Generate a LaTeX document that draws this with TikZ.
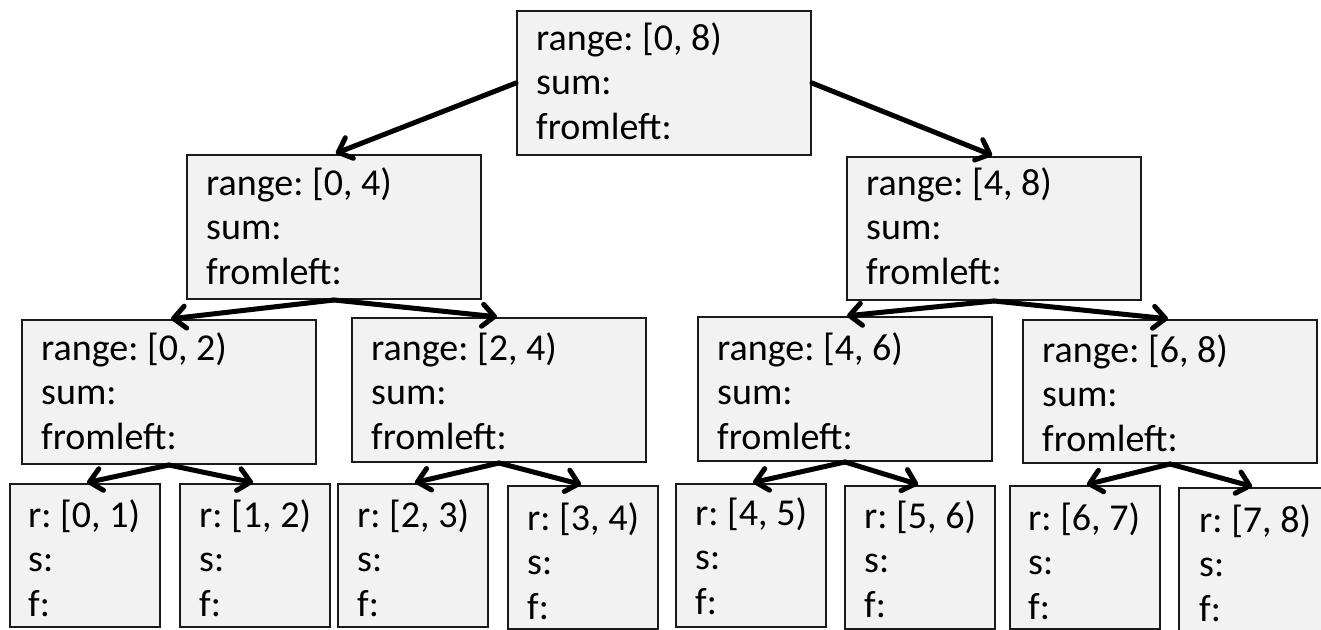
\documentclass[tikz,border=0pt]{standalone}
\usepackage{fontspec}
\setmainfont{Carlito}
\usetikzlibrary{arrows.meta}
\definecolor{boxfill}{HTML}{F2F2F2}
\definecolor{boxline}{HTML}{1A1A1A}
\frenchspacing
\begin{document}
\begin{tikzpicture}[x=1pt,y=-1pt,
  box/.style={draw=boxline, fill=boxfill, line width=2pt, inner sep=0pt, anchor=north west},
  big/.style={box, minimum width=294pt, minimum height=144pt},
  leaf/.style={box, minimum width=150pt, minimum height=143pt},
  txt/.style={anchor=base west, inner sep=0pt, font=\fontsize{38}{44.5}\selectfont\frenchspacing},
  link/.style={line width=5pt, line cap=round, shorten >=2pt, -{Straight Barb[length=12pt,width=22pt,line cap=round,line join=round]}}]
\useasboundingbox (0,0) rectangle (1321,629);
\newcommand\lines[3]{\begin{tabular}[t]{@{}l@{}}#1\\#2\\#3\end{tabular}}
% level 0
\node[big] (root) at (516,10) {};
\node[txt] (root-t) at (536,50) {\lines{range: [0, 8)}{sum:}{fromleft:}};
% level 1
\node[big] (a) at (186,154) {};
\node[txt] (a-t) at (206,195) {\lines{range: [0, 4)}{sum:}{fromleft:}};
\node[big, minimum height=143pt] (b) at (846,156) {};
\node[txt] (b-t) at (866,195) {\lines{range: [4, 8)}{sum:}{fromleft:}};
% level 2
\node[big] (c) at (21,319) {};
\node[txt] (c-t) at (41,360) {\lines{range: [0, 2)}{sum:}{fromleft:}};
\node[big] (d) at (351,317) {};
\node[txt] (d-t) at (371,360) {\lines{range: [2, 4)}{sum:}{fromleft:}};
\node[big] (e) at (697,316) {};
\node[txt] (e-t) at (717,360) {\lines{range: [4, 6)}{sum:}{fromleft:}};
\node[big, minimum height=143pt] (f) at (1022,319) {};
\node[txt] (f-t) at (1042,362) {\lines{range: [6, 8)}{sum:}{fromleft:}};
% leaves
\node[leaf] (l0) at (9,483) {};
\node[txt] (l0-t) at (28,527) {\lines{r: [0, 1)}{s:}{f:}};
\node[leaf] (l1) at (179,483) {};
\node[txt] (l1-t) at (199,527) {\lines{r: [1, 2)}{s:}{f:}};
\node[leaf] (l2) at (337,483) {};
\node[txt] (l2-t) at (357,527) {\lines{r: [2, 3)}{s:}{f:}};
\node[leaf] (l3) at (507,485) {};
\node[txt] (l3-t) at (527,530) {\lines{r: [3, 4)}{s:}{f:}};
\node[leaf] (l4) at (675,483) {};
\node[txt] (l4-t) at (695,525) {\lines{r: [4, 5)}{s:}{f:}};
\node[leaf] (l5) at (844,485) {};
\node[txt] (l5-t) at (864,528) {\lines{r: [5, 6)}{s:}{f:}};
\node[leaf] (l6) at (1009,485) {};
\node[txt] (l6-t) at (1028,530) {\lines{r: [6, 7)}{s:}{f:}};
\node[leaf] (l7) at (1178,487) {};
\node[txt] (l7-t) at (1199,532) {\lines{r: [7, 8)}{s:}{f:}};
% connectors
\draw[link] (root.west) -- (a.north);
\draw[link] (root.east) -- (b.north);
\draw[link] (a.south) -- (c.north);
\draw[link] (a.south) -- (d.north);
\draw[link] (b.south) -- (e.north);
\draw[link] (b.south) -- (f.north);
\draw[link] (c.south) -- (l0.north);
\draw[link] (c.south) -- (l1.north);
\draw[link] (d.south) -- (l2.north);
\draw[link] (d.south) -- (l3.north);
\draw[link] (e.south) -- (l4.north);
\draw[link] (e.south) -- (l5.north);
\draw[link] (f.south) -- (l6.north);
\draw[link] (f.south) -- (l7.north);
\end{tikzpicture}
\end{document}
